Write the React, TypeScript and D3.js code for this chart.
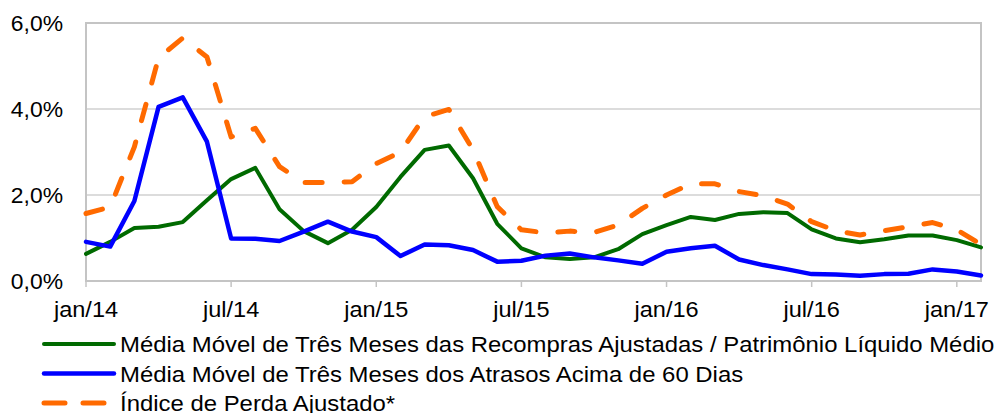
import * as d3 from 'd3';
import { useEffect, useRef } from 'react';

// monthly values, jan/14 .. feb/17 (in %)
const recompras = [0.63, 0.91, 1.23, 1.26, 1.37, 1.88, 2.37, 2.63, 1.67, 1.16, 0.88, 1.19, 1.72, 2.42, 3.05, 3.15, 2.39, 1.33, 0.76, 0.55, 0.51, 0.55, 0.74, 1.09, 1.3, 1.49, 1.42, 1.56, 1.6, 1.58, 1.2, 0.99, 0.9, 0.97, 1.06, 1.06, 0.95, 0.78];
const atrasos = [0.91, 0.8, 1.86, 4.05, 4.27, 3.24, 0.99, 0.98, 0.93, 1.15, 1.38, 1.15, 1.02, 0.58, 0.85, 0.83, 0.72, 0.45, 0.47, 0.59, 0.64, 0.55, 0.48, 0.4, 0.68, 0.76, 0.82, 0.5, 0.37, 0.27, 0.16, 0.15, 0.12, 0.16, 0.17, 0.27, 0.22, 0.13];
const perda = [1.57, 1.72, 3.12, 5.19, 5.65, 5.21, 3.35, 3.55, 2.66, 2.29, 2.29, 2.31, 2.73, 3.0, 3.82, 3.99, 3.05, 1.73, 1.19, 1.12, 1.16, 1.13, 1.3, 1.69, 2.0, 2.26, 2.26, 2.08, 1.98, 1.79, 1.38, 1.17, 1.07, 1.17, 1.26, 1.36, 1.19, 0.85];

const tickLabels = ['jan/14', 'jul/14', 'jan/15', 'jul/15', 'jan/16', 'jul/16', 'jan/17'];
const yTicks = [0, 2, 4, 6];

const series = [
    { name: 'Média Móvel de Três Meses das Recompras Ajustadas / Patrimônio Líquido Médio', values: recompras, color: '#006a00', width: 4, dash: null },
    { name: 'Média Móvel de Três Meses dos Atrasos Acima de 60 Dias', values: atrasos, color: '#0000ff', width: 4.5, dash: null },
    { name: 'Índice de Perda Ajustado*', values: perda, color: '#ff6a00', width: 5, dash: '17 22' },
];

const font = '"Liberation Sans", Arial, sans-serif';

export default function App() {
    const ref = useRef(null);

    useEffect(() => {
        if (!ref.current) return;
        const svg = d3.select(ref.current);
        svg.selectAll('*').remove();

        const left = 86, right = 981, top = 23, bottom = 281;

        const x = d3.scaleLinear().domain([0, recompras.length - 1]).range([left, right]);
        const y = d3.scaleLinear().domain([0, 6]).range([bottom, top]);

        // text is a bit wider than plain Arial in the source, so stretch it a little
        const addText = (px, py, str, anchor, size, sx) => {
            svg.append('text')
                .attr('transform', `translate(${px},${py}) scale(${sx},1)`)
                .attr('text-anchor', anchor)
                .attr('font-family', font)
                .attr('font-size', size)
                .attr('fill', '#000')
                .text(str);
        };

        // gridlines
        svg.append('g').selectAll('line')
            .data([2, 4]).enter()
            .append('line')
            .attr('x1', left).attr('x2', right)
            .attr('y1', d => y(d)).attr('y2', d => y(d))
            .attr('stroke', '#d0d0d0')
            .attr('stroke-width', 1.5);

        // plot border
        svg.append('rect')
            .attr('x', left).attr('y', top)
            .attr('width', right - left).attr('height', bottom - top)
            .attr('fill', 'none')
            .attr('stroke', '#c4c4c4')
            .attr('stroke-width', 2);

        // x ticks
        svg.append('g').selectAll('line')
            .data(tickLabels).enter()
            .append('line')
            .attr('x1', (d, i) => x(i * 6)).attr('x2', (d, i) => x(i * 6))
            .attr('y1', bottom).attr('y2', bottom + 6)
            .attr('stroke', '#c4c4c4')
            .attr('stroke-width', 1.5);

        tickLabels.forEach((t, i) => addText(x(i * 6), 317, t, 'middle', 22, 1.07));
        yTicks.forEach(v => addText(63, y(v) + 8, d3.format('.1f')(v).replace('.', ',') + '%', 'end', 22, 1.04));

        const line = d3.line().x((d, i) => x(i)).y(d => y(d));

        series.forEach(s => {
            svg.append('path')
                .datum(s.values)
                .attr('d', line)
                .attr('fill', 'none')
                .attr('stroke', s.color)
                .attr('stroke-width', s.width)
                .attr('stroke-linejoin', 'round')
                .attr('stroke-linecap', 'round')
                .attr('stroke-dasharray', s.dash);
        });

        // legend
        series.forEach((s, i) => {
            const ly = 344 + i * 29.5;
            svg.append('line')
                .attr('x1', 44).attr('x2', 114)
                .attr('y1', ly).attr('y2', ly)
                .attr('stroke', s.color)
                .attr('stroke-width', s.width)
                .attr('stroke-linecap', 'round')
                .attr('stroke-dasharray', s.dash ? '21 18' : null);
            addText(120, ly + 8, s.name, 'start', 22, 1.087);
        });
    }, []);

    return (
        <svg ref={ref} width={1003} height={413}
            style={{ position: 'absolute', left: 0, top: 0, background: '#fff' }} />
    );
}
